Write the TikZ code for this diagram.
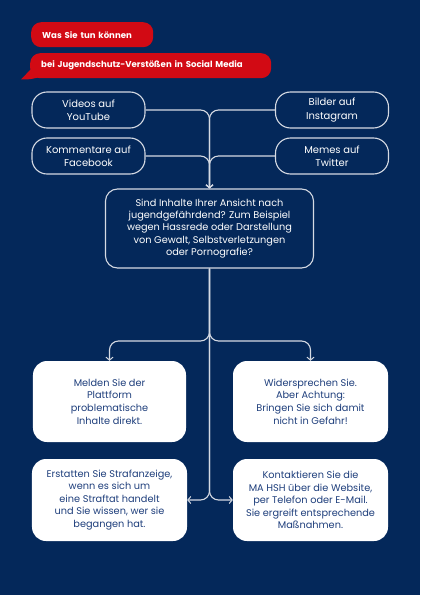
\documentclass[tikz,border=0pt]{standalone}
\usepackage{fontspec}
\setmainfont{Poppins}
\usetikzlibrary{arrows.meta}
\definecolor{navy}{HTML}{04285A}
\definecolor{mared}{HTML}{D20A14}
\definecolor{linec}{HTML}{D5DAE3}
\definecolor{inktext}{HTML}{1F3F7C}
\begin{document}
\begin{tikzpicture}[x=1bp,y=-1bp,
  conn/.style={draw=linec, line width=1.1bp, rounded corners=9bp, -{Straight Barb[length=3bp,width=7bp,line width=1bp]}},
  topbox/.style={draw=linec, line width=1.1bp, fill=navy, rounded corners=15bp, minimum width=113bp, minimum height=36bp, text=white, align=center, font=\fontsize{10}{13.5}\selectfont, inner sep=0pt},
  qbox/.style={draw=linec, line width=1.1bp, fill=navy, rounded corners=12bp, minimum width=208bp, minimum height=79bp, text=white, align=center, font=\fontsize{9.8}{12.2}\selectfont, inner sep=0pt},
  wbox/.style={fill=white, rounded corners=14bp, minimum width=155bp, minimum height=81bp, text=inktext, align=center, font=\fontsize{9.8}{12.6}\selectfont, inner sep=0pt},
  redbubble/.style={fill=mared, rounded corners=10bp, text=white, align=left, font=\fontsize{8.6}{10}\selectfont\bfseries, inner xsep=11bp, minimum height=25bp, anchor=north west}
]
\fill[navy] (0,0) rectangle (420,595);
\useasboundingbox (0,0) rectangle (420,595);

% header bubbles
\node[redbubble, text width=100bp] (h1) at (31,22) {Was Sie tun können};
\fill[mared] (32,68) -- (21,79.5) .. controls (30,79.5) .. (44,76) -- cycle;
\node[redbubble, text width=219bp] (h2) at (30,53) {bei Jugendschutz-Verstößen in Social Media};

% top sources
\node[topbox] (yt) at (88.5,110) {Videos auf\\YouTube};
\node[topbox] (ig) at (332,110) {Bilder auf\\Instagram};
\node[topbox] (fb) at (88.5,156) {Kommentare auf\\Facebook};
\node[topbox] (tw) at (332,156) {Memes auf\\Twitter};

% question
\node[qbox] (qb) at (209.5,228.5) {Sind Inhalte Ihrer Ansicht nach\\jugendgefährdend? Zum Beispiel\\wegen Hassrede oder Darstellung\\von Gewalt, Selbstverletzungen\\oder Pornografie?};

% action boxes
\node[wbox, minimum width=153bp] (ml) at (109.5,401.5) {Melden Sie der\\Plattform\\problematische\\Inhalte direkt.};
\node[wbox] (mr) at (310.5,401.5) {Widersprechen Sie.\\Aber Achtung:\\Bringen Sie sich damit\\nicht in Gefahr!};
\node[wbox, minimum height=82bp] (bl) at (109.5,500) {Erstatten Sie Strafanzeige,\\wenn es sich um\\eine Straftat handelt\\und Sie wissen, wer sie\\begangen hat.};
\node[wbox, minimum height=82bp] (br) at (310.5,500) {Kontaktieren Sie die\\MA HSH über die Website,\\per Telefon oder E-Mail.\\Sie ergreift entsprechende\\Maßnahmen.};

% connectors into question
\draw[conn] (yt.east) -| (qb.north);
\draw[conn] (ig.west) -| (qb.north);
\draw[conn] (fb.east) -| (qb.north);
\draw[conn] (tw.west) -| (qb.north);

% branches
\coordinate (split) at (qb.south |- 0,341);
\draw[conn] (qb.south) -- (split) -| (ml.north);
\draw[conn] (qb.south) -- (split) -| (mr.north);
\draw[conn] (qb.south) |- (bl.east);
\draw[conn] (qb.south) |- (br.west);
\end{tikzpicture}
\end{document}
